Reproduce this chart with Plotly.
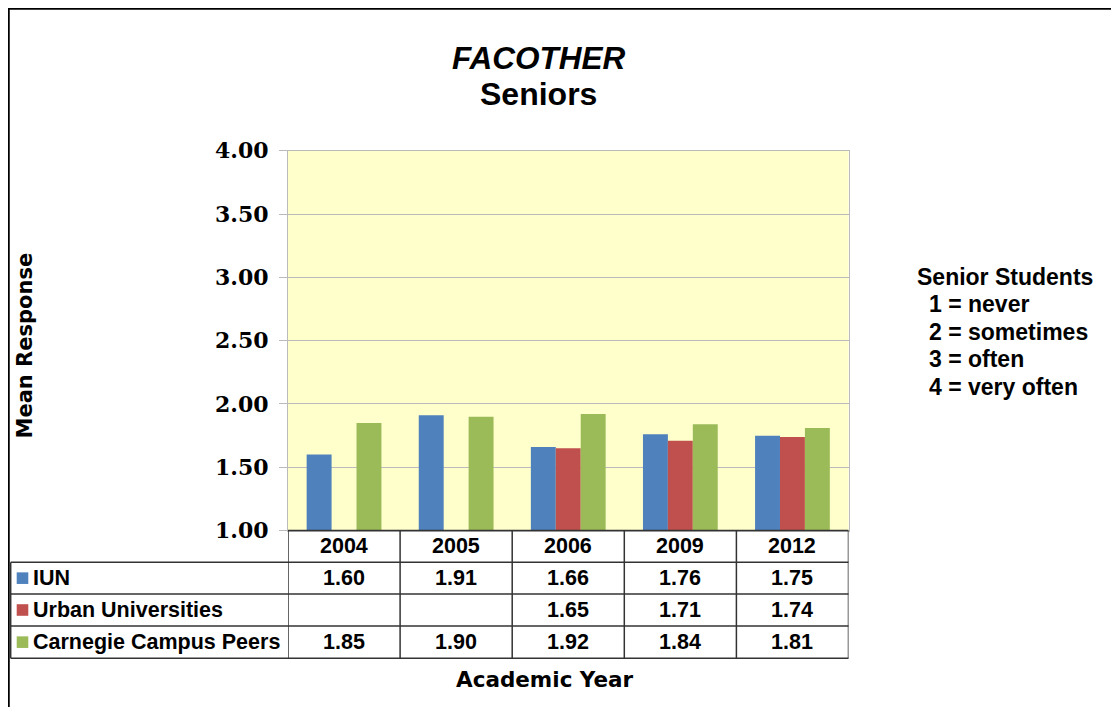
import plotly.graph_objects as go

# data
years = ["2004", "2005", "2006", "2009", "2012"]
iun = [1.60, 1.91, 1.66, 1.76, 1.75]
urban = [None, None, 1.65, 1.71, 1.74]
carnegie = [1.85, 1.90, 1.92, 1.84, 1.81]
series_names = ["IUN", "Urban Universities", "Carnegie Campus Peers"]
series_colors = ["#4F81BD", "#C0504D", "#9BBB59"]
y_ticks = [1.00, 1.50, 2.00, 2.50, 3.00, 3.50, 4.00]
scale_title = "Senior Students"
scale_notes = ["1 = never", "2 = sometimes", "3 = often", "4 = very often"]

# the page body has an 8px margin, so the figure starts at (8, 8) in the window
OFF = 8
W, H = 1119 - OFF, 707 - OFF


def px(x):
    return (x - OFF) / W


def py(y):
    return 1 - (y - OFF) / H


# pixel layout of the reference (window coordinates)
plot_left, plot_right = 288, 848.5
plot_top, plot_bottom = 150.7, 530.6
row_lines = [562.3, 594.0, 626.0, 658.3]
table_left = 10.7
line_col = "#333333"
grid_col = "#BBBBBB"

sans = "Liberation Sans"
all_series = [iun, urban, carnegie]

fig = go.Figure()
for name, vals, col in zip(series_names, all_series, series_colors):
    fig.add_trace(go.Bar(
        x=years, y=vals, name=name,
        marker=dict(color=col, line=dict(width=0)),
        hoverinfo="skip",
    ))

shapes = []
annotations = []

# table grid
tbl_line = dict(color=line_col, width=1.5)
shapes.append(dict(type="line", xref="paper", yref="paper",
                   x0=px(plot_left), x1=px(plot_right), y0=py(plot_bottom), y1=py(plot_bottom), line=tbl_line))
for r in row_lines:
    shapes.append(dict(type="line", xref="paper", yref="paper",
                       x0=px(table_left), x1=px(plot_right), y0=py(r), y1=py(r), line=tbl_line))
shapes.append(dict(type="line", xref="paper", yref="paper",
                   x0=px(table_left), x1=px(table_left), y0=py(row_lines[0]), y1=py(row_lines[-1]), line=tbl_line))
# category boundaries, taken from the x axis
for i in range(len(years) + 1):
    shapes.append(dict(type="line", xref="x", yref="paper",
                       x0=i - 0.5, x1=i - 0.5, y0=py(plot_bottom), y1=py(row_lines[-1]), line=tbl_line))

tbl_font = dict(family=sans, size=21.5, color="black", weight="bold")
for i, yr in enumerate(years):
    annotations.append(dict(x=i, xref="x", y=py((plot_bottom + row_lines[0]) / 2), yref="paper",
                            text=yr, showarrow=False, font=tbl_font, xanchor="center", yanchor="middle"))

for k, (name, vals, col) in enumerate(zip(series_names, all_series, series_colors)):
    yc = (row_lines[k] + row_lines[k + 1]) / 2
    shapes.append(dict(type="rect", xref="paper", yref="paper",
                       x0=px(16.7), x1=px(28.3), y0=py(yc + 5.8), y1=py(yc - 5.8),
                       fillcolor=col, line=dict(width=0)))
    annotations.append(dict(x=px(31), xref="paper", y=py(yc), yref="paper", text=name,
                            showarrow=False, font=tbl_font, xanchor="left", yanchor="middle"))
    for i, v in enumerate(vals):
        if v is None:
            continue
        annotations.append(dict(x=i, xref="x", y=py(yc), yref="paper", text=f"{v:.2f}",
                                showarrow=False, font=tbl_font, xanchor="center", yanchor="middle"))

# titles
annotations.append(dict(x=px(539), y=py(58), xref="paper", yref="paper", text="FACOTHER",
                        showarrow=False, font=dict(family=sans, size=31.5, color="black", weight="bold", style="italic"),
                        xanchor="center", yanchor="middle"))
annotations.append(dict(x=px(538), y=py(94), xref="paper", yref="paper", text="Seniors",
                        showarrow=False, font=dict(family=sans, size=32, color="black", weight="bold"),
                        xanchor="center", yanchor="middle"))
annotations.append(dict(x=px(24), y=py(345.5), xref="paper", yref="paper", text="Mean Response",
                        textangle=-90, showarrow=False,
                        font=dict(family="DejaVu Sans", size=21, color="black", weight="bold"),
                        xanchor="center", yanchor="middle"))
annotations.append(dict(x=px(545), y=py(679), xref="paper", yref="paper", text="Academic Year",
                        showarrow=False, font=dict(family="DejaVu Sans", size=21.5, color="black", weight="bold"),
                        xanchor="center", yanchor="middle"))

# response scale note
note_font = dict(family=sans, size=23, color="black", weight="bold")
annotations.append(dict(x=px(915), y=py(277), xref="paper", yref="paper", text=scale_title,
                        showarrow=False, font=note_font, xanchor="left", yanchor="middle"))
for j, s in enumerate(scale_notes):
    annotations.append(dict(x=px(927), y=py(304.5 + 27.4 * j), xref="paper", yref="paper", text=s,
                            showarrow=False, font=note_font, xanchor="left", yanchor="middle"))

# outer frame (as far as the figure reaches)
shapes.append(dict(type="line", xref="paper", yref="paper", x0=0, x1=1, y0=py(OFF + 0.5), y1=py(OFF + 0.5),
                   line=dict(color="black", width=2.5)))
shapes.append(dict(type="line", xref="paper", yref="paper", x0=px(OFF + 0.5), x1=px(OFF + 0.5), y0=py(OFF + 0.5), y1=0,
                   line=dict(color="black", width=2.5)))

fig.update_layout(
    width=W, height=H,
    margin=dict(l=0, r=0, t=0, b=0, autoexpand=False),
    paper_bgcolor="white",
    plot_bgcolor="#FFFFCC",
    showlegend=False,
    barmode="group",
    bargap=0.333,
    bargroupgap=0,
    shapes=shapes,
    annotations=annotations,
    xaxis=dict(
        type="category",
        domain=[px(plot_left), px(plot_right)],
        range=[-0.5, len(years) - 0.5],
        showticklabels=False, ticks="",
        showgrid=False, zeroline=False, automargin=False,
        showline=True, linecolor=grid_col, linewidth=1, mirror=True,
    ),
    yaxis=dict(
        domain=[py(plot_bottom), py(plot_top)],
        range=[1, 4],
        tickvals=y_ticks,
        ticktext=[f"{t:.2f}" for t in y_ticks],
        tickfont=dict(family="DejaVu Serif", size=22, color="black", weight="bold"),
        ticks="outside", ticklen=8, tickcolor=grid_col,
        ticklabelstandoff=6,
        showgrid=True, gridcolor=grid_col, gridwidth=1,
        zeroline=False, automargin=False,
        showline=True, linecolor=grid_col, linewidth=1, mirror=True,
    ),
)

fig.write_html("out.html")
